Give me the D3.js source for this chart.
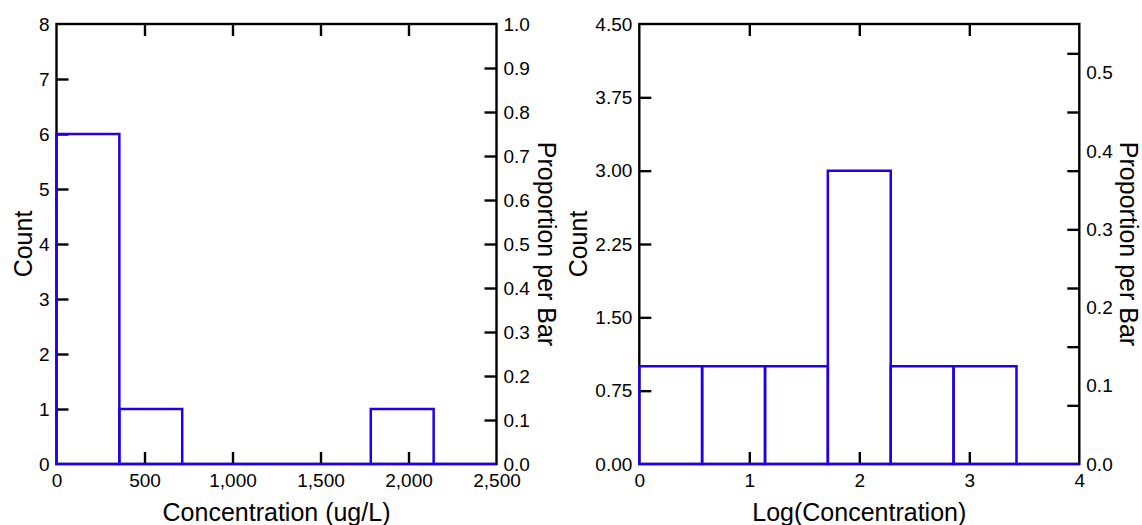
<!DOCTYPE html>
<html>
<head>
<meta charset="utf-8">
<script src="https://cdn.jsdelivr.net/npm/d3@7/dist/d3.min.js"></script>
<style>
  html, body { margin: 0; padding: 0; background: #fff; }
  svg { display: block; }
  text { font-family: "Liberation Sans", Arial, sans-serif; fill: #000; }
</style>
</head>
<body>
<svg id="chart" width="1142" height="525"></svg>
<script>
// ---- Data ----
// Left panel: raw concentration histogram
const concBinEdges = [0, 357.1, 714.3, 1071.4, 1428.6, 1785.7, 2142.9, 2500];
const concCounts   = [6, 1, 0, 0, 0, 1, 0];
const concXTicks   = [0, 500, 1000, 1500, 2000, 2500];
const concYTicks   = [0, 1, 2, 3, 4, 5, 6, 7, 8];
const concPropTicks = [0, 0.1, 0.2, 0.3, 0.4, 0.5, 0.6, 0.7, 0.8, 0.9, 1.0];
const concXTitle = "Concentration (ug/L)";

// Right panel: log concentration histogram
const logBinEdges = [0, 0.571, 1.143, 1.714, 2.286, 2.857, 3.429, 4.0];
const logCounts   = [1, 1, 1, 3, 1, 1, 0];
const logXTicks   = [0, 1, 2, 3, 4];
const logYTicks   = [0, 0.75, 1.5, 2.25, 3.0, 3.75, 4.5];
const logPropLabels = [0.0, 0.1, 0.2, 0.3, 0.4, 0.5];
const logPropTickMarks = [0.075, 0.15, 0.225, 0.3, 0.375, 0.45, 0.525];
const logXTitle = "Log(Concentration)";

const yTitle = "Count";
const propTitle = "Proportion per Bar";
const totalN = 8;

// ---- Drawing ----
const svg = d3.select("#chart");
svg.append("rect").attr("width", 1142).attr("height", 525).attr("fill", "#fff");

const BLUE = "#2200e6";
const TICK_FONT = 19;
const TITLE_FONT = 25;
const TL = 12; // tick length

function panel(cfg) {
  const g = svg.append("g");
  const x = d3.scaleLinear().domain(cfg.xDomain).range([cfg.left, cfg.left + 440]);
  const y = d3.scaleLinear().domain(cfg.yDomain).range([464, 24]);
  const yp = d3.scaleLinear().domain([cfg.yDomain[0] / totalN, cfg.yDomain[1] / totalN]).range([464, 24]);
  const x0 = x.range()[0], x1 = x.range()[1];

  const styleAxis = sel => {
    sel.select(".domain").remove();
    sel.selectAll(".tick line").attr("stroke", "#000").attr("stroke-width", 2.4);
    sel.selectAll(".tick text").attr("font-size", TICK_FONT).attr("font-family", "Liberation Sans, Arial, sans-serif").attr("fill", "#000");
  };

  // frame
  g.append("rect").attr("x", x0).attr("y", 24).attr("width", x1 - x0).attr("height", 440)
    .attr("fill", "none").attr("stroke", "#000").attr("stroke-width", 2.4);

  // bottom axis
  g.append("g").attr("transform", `translate(0,464)`)
    .call(d3.axisBottom(x).tickValues(cfg.xTicks).tickFormat(cfg.xFmt).tickSizeInner(-TL).tickSizeOuter(0).tickPadding(10))
    .call(styleAxis)
    .call(s => s.selectAll(".tick line").filter(d => d === cfg.xDomain[0] || d === cfg.xDomain[1]).remove());
  // top axis (ticks only)
  g.append("g").attr("transform", `translate(0,24)`)
    .call(d3.axisTop(x).tickValues(cfg.xTicks.filter(d => d !== cfg.xDomain[0] && d !== cfg.xDomain[1])).tickFormat("").tickSizeInner(-TL).tickSizeOuter(0))
    .call(styleAxis);

  // left count axis
  g.append("g").attr("transform", `translate(${x0},0)`)
    .call(d3.axisLeft(y).tickValues(cfg.yTicks).tickFormat(cfg.yFmt).tickSizeInner(-TL).tickSizeOuter(0).tickPadding(7))
    .call(styleAxis)
    .call(s => s.selectAll(".tick line").filter(d => d === cfg.yDomain[0] || d === cfg.yDomain[1]).remove());

  // right proportion axis: tick marks
  g.append("g").attr("transform", `translate(${x1},0)`)
    .call(d3.axisRight(yp).tickValues(cfg.propTicks).tickFormat("").tickSizeInner(-TL).tickSizeOuter(0))
    .call(styleAxis)
    .call(s => s.selectAll(".tick line").filter(d => d <= 0 || d >= yp.domain()[1] - 1e-9).remove());
  // right proportion axis: labels
  g.append("g").attr("transform", `translate(${x1},0)`)
    .call(d3.axisRight(yp).tickValues(cfg.propLabels).tickFormat(d3.format(".1f")).tickSizeInner(0).tickSizeOuter(0).tickPadding(7))
    .call(styleAxis)
    .call(s => s.selectAll(".tick line").remove());

  // histogram bars
  const bins = cfg.counts.map((c, i) => ({ a: cfg.edges[i], b: cfg.edges[i + 1], c }));
  g.append("g").selectAll("path").data(bins).join("path")
    .attr("d", d => `M${x(d.a)},${y(0)}V${y(d.c)}H${x(d.b)}V${y(0)}Z`)
    .attr("fill", "none").attr("stroke", BLUE).attr("stroke-width", 2.5)
    .attr("stroke-linejoin", "miter");

  // titles
  g.append("text").attr("x", (x0 + x1) / 2).attr("y", 521)
    .attr("text-anchor", "middle").attr("font-size", TITLE_FONT).text(cfg.xTitle);
  g.append("text").attr("transform", `translate(${x0 - cfg.yTitleOff},244) rotate(-90)`)
    .attr("text-anchor", "middle").attr("font-size", TITLE_FONT).text(yTitle);
  g.append("text").attr("transform", `translate(${x1 + cfg.pTitleOff},244) rotate(90)`)
    .attr("text-anchor", "middle").attr("font-size", TITLE_FONT).text(propTitle);
}

panel({
  left: 56.5, xDomain: [0, 2500], yDomain: [0, 8],
  xTicks: concXTicks, yTicks: concYTicks, propTicks: concPropTicks, propLabels: concPropTicks,
  xFmt: d3.format(",d"), yFmt: d3.format("d"),
  edges: concBinEdges, counts: concCounts, xTitle: concXTitle,
  yTitleOff: 24.5, pTitleOff: 41.5
});

panel({
  left: 639.3, xDomain: [0, 4], yDomain: [0, 4.5],
  xTicks: logXTicks, yTicks: logYTicks, propTicks: logPropTickMarks, propLabels: logPropLabels,
  xFmt: d3.format("d"), yFmt: d3.format(".2f"),
  edges: logBinEdges, counts: logCounts, xTitle: logXTitle,
  yTitleOff: 52.5, pTitleOff: 41
});
</script>
</body>
</html>
